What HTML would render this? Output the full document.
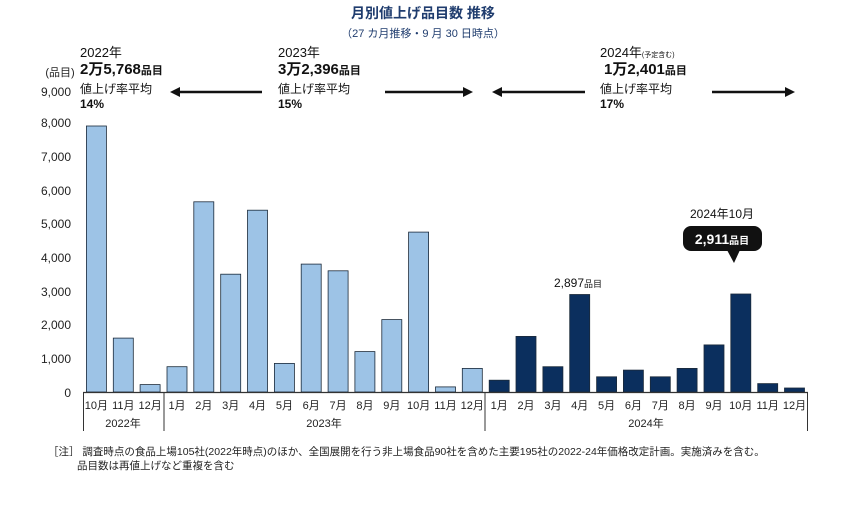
<!DOCTYPE html>
<html><head><meta charset="utf-8"><style>
html,body{margin:0;padding:0;background:#fff;}
svg{display:block;font-family:"Liberation Sans","Noto Sans CJK JP",sans-serif;}
</style></head><body>
<svg width="846" height="506" viewBox="0 0 846 506" xmlns="http://www.w3.org/2000/svg">
<text x="423" y="18" text-anchor="middle" font-size="14" font-weight="bold" fill="#1f3c6e">月別値上げ品目数  推移</text>
<text x="423" y="37" text-anchor="middle" font-size="11" fill="#1f3c6e">（27 カ月推移・9 月 30 日時点）</text>

<g font-size="13" fill="#111">
<text x="80" y="57">2022年</text>
<text x="80" y="74" font-weight="bold" font-size="15">2万5,768<tspan font-size="11">品目</tspan></text>
<text x="80" y="93" font-size="12">値上げ率平均</text>
<text x="80" y="108" font-size="12" font-weight="bold">14%</text>
<text x="278" y="57">2023年</text>
<text x="278" y="74" font-weight="bold" font-size="15">3万2,396<tspan font-size="11">品目</tspan></text>
<text x="278" y="93" font-size="12">値上げ率平均</text>
<text x="278" y="108" font-size="12" font-weight="bold">15%</text>
<text x="600" y="57">2024年<tspan font-size="7">(予定含む)</tspan></text>
<text x="604" y="74" font-weight="bold" font-size="15">1万2,401<tspan font-size="11">品目</tspan></text>
<text x="600" y="93" font-size="12">値上げ率平均</text>
<text x="600" y="108" font-size="12" font-weight="bold">17%</text>
</g>
<g stroke="#111" stroke-width="2.5" fill="#111">
<line x1="178" y1="92" x2="262" y2="92"/><polygon points="170,92 180,87 180,97" stroke="none"/>
<line x1="385" y1="92" x2="465" y2="92"/><polygon points="473,92 463,87 463,97" stroke="none"/>
<line x1="500" y1="92" x2="585" y2="92"/><polygon points="492,92 502,87 502,97" stroke="none"/>
<line x1="712" y1="92" x2="787" y2="92"/><polygon points="795,92 785,87 785,97" stroke="none"/>
</g>

<g font-size="12" fill="#222" text-anchor="end">
<text x="60" y="76" text-anchor="middle" font-size="11">(品目)</text>
<text x="71" y="96">9,000</text>
<text x="71" y="127">8,000</text>
<text x="71" y="161">7,000</text>
<text x="71" y="195">6,000</text>
<text x="71" y="228">5,000</text>
<text x="71" y="262">4,000</text>
<text x="71" y="296">3,000</text>
<text x="71" y="329">2,000</text>
<text x="71" y="363">1,000</text>
<text x="71" y="397">0</text>
</g>

<g stroke="#1b2a3a" stroke-width="0.8" fill="#9dc3e6">
<rect x="86.4" y="126.0" width="20" height="266.0"/>
<rect x="113.3" y="338.1" width="20" height="53.9"/>
<rect x="140.1" y="384.6" width="20" height="7.4"/>
<rect x="167.0" y="366.7" width="20" height="25.3"/>
<rect x="193.8" y="201.8" width="20" height="190.2"/>
<rect x="220.7" y="274.2" width="20" height="117.8"/>
<rect x="247.5" y="210.2" width="20" height="181.8"/>
<rect x="274.4" y="363.4" width="20" height="28.6"/>
<rect x="301.2" y="264.1" width="20" height="127.9"/>
<rect x="328.1" y="270.8" width="20" height="121.2"/>
<rect x="354.9" y="351.6" width="20" height="40.4"/>
<rect x="381.8" y="319.6" width="20" height="72.4"/>
<rect x="408.6" y="232.1" width="20" height="159.9"/>
<rect x="435.5" y="386.9" width="20" height="5.1"/>
<rect x="462.3" y="368.4" width="20" height="23.6"/>
</g>
<g stroke="#1b2a3a" stroke-width="0.8" fill="#0b2f5e">
<rect x="489.2" y="380.2" width="20" height="11.8"/>
<rect x="516.0" y="336.4" width="20" height="55.6"/>
<rect x="542.9" y="366.7" width="20" height="25.3"/>
<rect x="569.7" y="294.5" width="20" height="97.5"/>
<rect x="596.6" y="376.8" width="20" height="15.2"/>
<rect x="623.4" y="370.1" width="20" height="21.9"/>
<rect x="650.3" y="376.8" width="20" height="15.2"/>
<rect x="677.1" y="368.4" width="20" height="23.6"/>
<rect x="704.0" y="344.9" width="20" height="47.1"/>
<rect x="730.8" y="294.0" width="20" height="98.0"/>
<rect x="757.7" y="383.6" width="20" height="8.4"/>
<rect x="784.5" y="388.0" width="20" height="4.0"/>
</g>

<line x1="83" y1="392.5" x2="808" y2="392.5" stroke="#333" stroke-width="1.2"/>
<g stroke="#333" stroke-width="1">
<line x1="83.5" y1="392" x2="83.5" y2="431"/>
<line x1="164" y1="392" x2="164" y2="431"/>
<line x1="485" y1="392" x2="485" y2="431"/>
<line x1="807.5" y1="392" x2="807.5" y2="431"/>
</g>
<g font-size="11" fill="#222" text-anchor="middle">
<text x="96.4" y="409">10月</text>
<text x="123.3" y="409">11月</text>
<text x="150.1" y="409">12月</text>
<text x="177.0" y="409">1月</text>
<text x="203.8" y="409">2月</text>
<text x="230.7" y="409">3月</text>
<text x="257.5" y="409">4月</text>
<text x="284.4" y="409">5月</text>
<text x="311.2" y="409">6月</text>
<text x="338.1" y="409">7月</text>
<text x="364.9" y="409">8月</text>
<text x="391.8" y="409">9月</text>
<text x="418.6" y="409">10月</text>
<text x="445.5" y="409">11月</text>
<text x="472.3" y="409">12月</text>
<text x="499.2" y="409">1月</text>
<text x="526.0" y="409">2月</text>
<text x="552.9" y="409">3月</text>
<text x="579.7" y="409">4月</text>
<text x="606.6" y="409">5月</text>
<text x="633.4" y="409">6月</text>
<text x="660.3" y="409">7月</text>
<text x="687.1" y="409">8月</text>
<text x="714.0" y="409">9月</text>
<text x="740.8" y="409">10月</text>
<text x="767.7" y="409">11月</text>
<text x="794.5" y="409">12月</text>
<text x="123" y="427">2022年</text>
<text x="324" y="427">2023年</text>
<text x="646" y="427">2024年</text>
</g>

<text x="578" y="287" text-anchor="middle" font-size="12" fill="#111">2,897<tspan font-size="9">品目</tspan></text>
<text x="722" y="218" text-anchor="middle" font-size="12" fill="#111">2024年10月</text>
<rect x="683" y="226" width="79" height="25" rx="8" fill="#111"/>
<polygon points="727,250 740,250 734,263" fill="#111"/>
<text x="722" y="244" text-anchor="middle" font-size="14" font-weight="bold" fill="#fff">2,911<tspan font-size="10">品目</tspan></text>

<g font-size="10.5" fill="#222">
<text x="48" y="455">［注］ 調査時点の食品上場105社(2022年時点)のほか、全国展開を行う非上場食品90社を含めた主要195社の2022-24年価格改定計画。実施済みを含む。</text>
<text x="77" y="469">品目数は再値上げなど重複を含む</text>
</g>
</svg>
</body></html>
